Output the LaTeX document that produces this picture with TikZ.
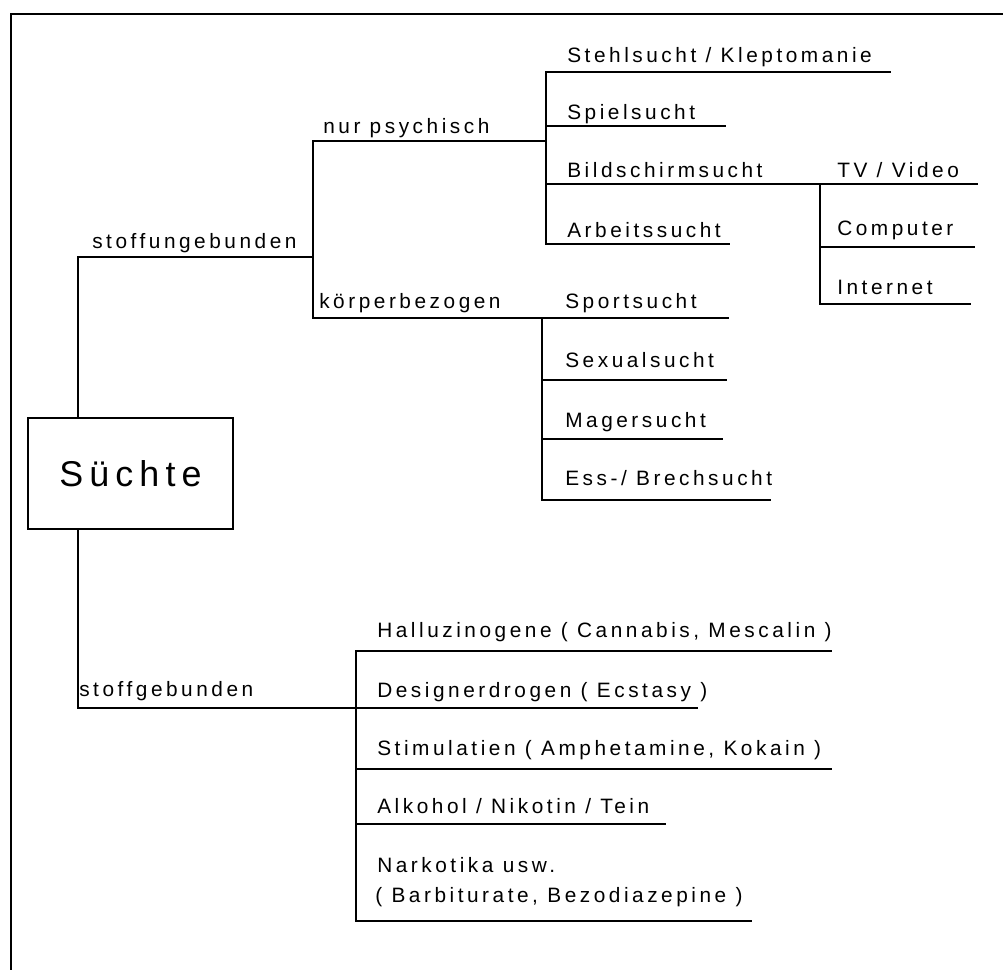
\documentclass[tikz,border=0pt]{standalone}
\usepackage{fontspec}
\setmainfont{Liberation Sans}
\newfontfamily\lblfam{Liberation Sans}[LetterSpace=17]
\newfontfamily\rootfam{Liberation Sans}[LetterSpace=17]
\newcommand{\lblfont}{\lblfam\fontsize{14.8}{21}\selectfont}
\newcommand{\rootfont}{\rootfam\fontsize{25.5}{30}\selectfont}
\begin{document}
\begin{tikzpicture}[x=0.025cm,y=-0.025cm,
  conn/.style={line width=1.3pt, line cap=rect},
  lbl/.style={anchor=base west, inner sep=0pt, font=\lblfont, align=left},
  rootbox/.style={draw, line width=1.3pt, inner sep=0pt, minimum width=5.125cm, minimum height=2.775cm, font=\rootfont}]
\useasboundingbox (0,0) rectangle (1003,969);
% outer frame
\draw[conn] (11,969) -- (11,14) -- (1003,14);
% root
\node[rootbox] (root) at (130.5,473.5) {Süchte};
% junction coordinates
\coordinate (su0) at (78,257);
\coordinate (su1) at (313,257);
\coordinate (np1) at (546,141);
\coordinate (kb0) at (313,318);
\coordinate (kb1) at (728,318);
\coordinate (kbv) at (542,318);
\coordinate (sg0) at (78,708);
\coordinate (sg1) at (697,708);
% labels
\node[lbl] (stoffungeb) at (92,248) {stoffungebunden};
\node[lbl] (nurpsy) at (323,133) {nur psychisch};
\node[lbl] (koerper) at (319,308) {körperbezogen};
\node[lbl] (stoffgeb) at (79,696) {stoffgebunden};
\node[lbl] (stehl) at (567,62) {Stehlsucht / Kleptomanie};
\node[lbl] (spiel) at (567,119) {Spielsucht};
\node[lbl] (bild) at (567,177) {Bildschirmsucht};
\node[lbl] (arbeit) at (567,237) {Arbeitssucht};
\node[lbl] (sport) at (565,308) {Sportsucht};
\node[lbl] (tv) at (837,177) {TV / Video};
\node[lbl] (comp) at (837,235) {Computer};
\node[lbl] (inet) at (837,294) {Internet};
\node[lbl] (sex) at (565,367) {Sexualsucht};
\node[lbl] (mager) at (565,427) {Magersucht};
\node[lbl] (ess) at (565,485) {Ess-/ Brechsucht};
\node[lbl] (hallu) at (377,637) {Halluzinogene ( Cannabis, Mescalin )};
\node[lbl] (design) at (377,697) {Designerdrogen ( Ecstasy )};
\node[lbl] (stim) at (377,755) {Stimulatien ( Amphetamine, Kokain )};
\node[lbl] (alk) at (377,813) {Alkohol / Nikotin / Tein};
\node[lbl] (nark) at (377,872) {Narkotika usw.};
\node[lbl] (nark2) at (375,902) {( Barbiturate, Bezodiazepine )};
% trunk
\draw[conn] (root.north -| su0) -- (su0) -- (su1);
\draw[conn] (root.south -| sg0) -- (sg0) -- (sg1);
% stoffungebunden branch
\draw[conn] (su1 |- np1) -- (kb0);
\draw[conn] (su1 |- np1) -- (np1);
\draw[conn] (kb0) -- (kb1);
% nur psychisch children
\coordinate (pv0) at (546,72);
\coordinate (pv1) at (546,244);
\draw[conn] (pv0) -- (pv1);
\draw[conn] (pv0) -- (890,72);
\draw[conn] (546,126) -- (725,126);
\coordinate (bildj) at (820,184);
\draw[conn] (546,184) -- (bildj) -- (977,184);
\draw[conn] (pv1) -- (729,244);
% Bildschirmsucht children
\draw[conn] (bildj) -- (820,304);
\draw[conn] (820,247) -- (974,247);
\draw[conn] (820,304) -- (970,304);
% koerperbezogen children
\draw[conn] (kbv) -- (542,500);
\draw[conn] (542,380) -- (726,380);
\draw[conn] (542,439) -- (722,439);
\draw[conn] (542,500) -- (770,500);
% stoffgebunden children
\draw[conn] (356,651) -- (356,921);
\draw[conn] (356,651) -- (831,651);
\draw[conn] (356,769) -- (831,769);
\draw[conn] (356,824) -- (665,824);
\draw[conn] (356,921) -- (751,921);
\end{tikzpicture}
\end{document}
